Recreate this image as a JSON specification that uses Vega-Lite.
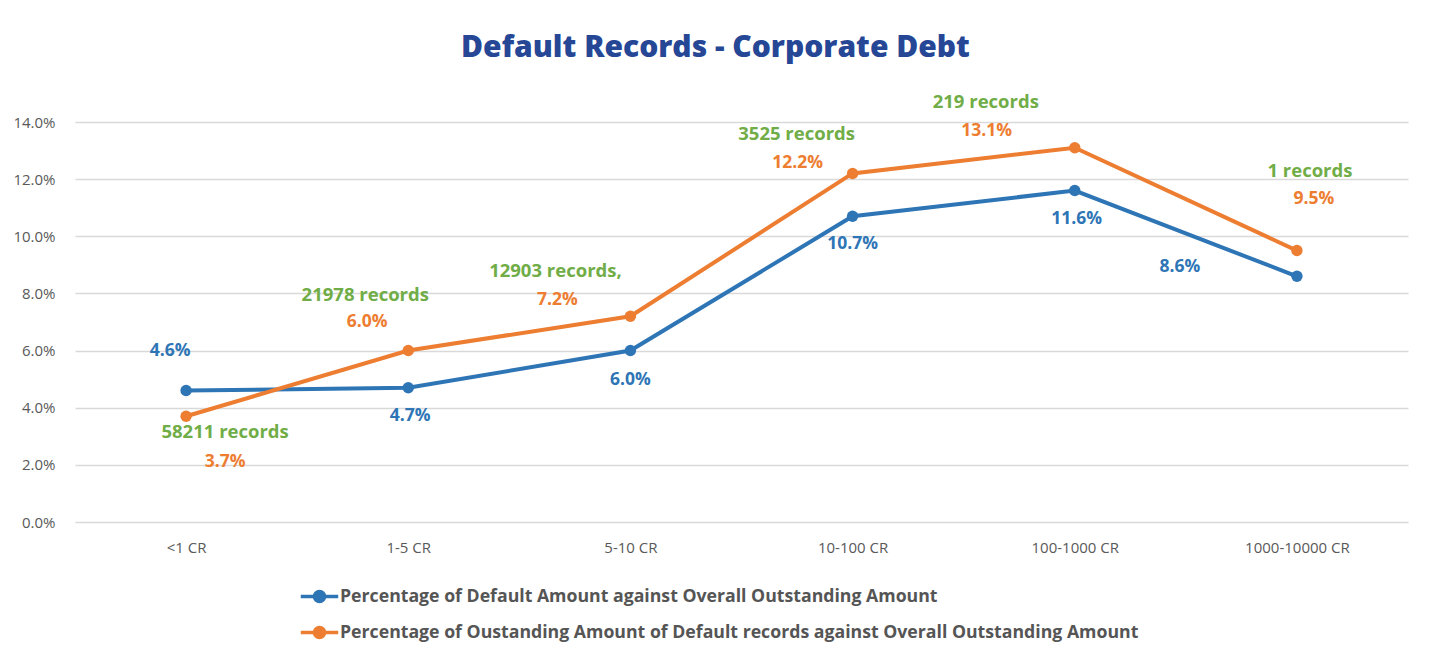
{
  "$schema": "https://vega.github.io/schema/vega-lite/v6.json",
  "width": 1333,
  "height": 400,
  "autosize": {"type": "none"},
  "padding": {"left": 75, "top": 122, "right": 21, "bottom": 135},
  "background": "white",
  "title": {
    "text": "Default Records - Corporate Debt",
    "anchor": "middle",
    "dx": -26,
    "offset": 30,
    "font": "Open Sans",
    "fontSize": 30,
    "fontWeight": 800,
    "color": "#264796"
  },
  "config": {
    "view": {"stroke": null},
    "font": "Open Sans"
  },
  "data": {
    "values": [
      {"range": "<1 CR", "s": "d", "series": "Percentage of Default Amount against Overall Outstanding Amount", "value": 0.046},
      {"range": "1-5 CR", "s": "d", "series": "Percentage of Default Amount against Overall Outstanding Amount", "value": 0.047},
      {"range": "5-10 CR", "s": "d", "series": "Percentage of Default Amount against Overall Outstanding Amount", "value": 0.060},
      {"range": "10-100 CR", "s": "d", "series": "Percentage of Default Amount against Overall Outstanding Amount", "value": 0.107},
      {"range": "100-1000 CR", "s": "d", "series": "Percentage of Default Amount against Overall Outstanding Amount", "value": 0.116},
      {"range": "1000-10000 CR", "s": "d", "series": "Percentage of Default Amount against Overall Outstanding Amount", "value": 0.086},
      {"range": "<1 CR", "s": "o", "series": "Percentage of Oustanding Amount of Default records against Overall Outstanding Amount", "value": 0.037, "records": "58211 records"},
      {"range": "1-5 CR", "s": "o", "series": "Percentage of Oustanding Amount of Default records against Overall Outstanding Amount", "value": 0.060, "records": "21978 records"},
      {"range": "5-10 CR", "s": "o", "series": "Percentage of Oustanding Amount of Default records against Overall Outstanding Amount", "value": 0.072, "records": "12903 records,"},
      {"range": "10-100 CR", "s": "o", "series": "Percentage of Oustanding Amount of Default records against Overall Outstanding Amount", "value": 0.122, "records": "3525 records"},
      {"range": "100-1000 CR", "s": "o", "series": "Percentage of Oustanding Amount of Default records against Overall Outstanding Amount", "value": 0.131, "records": "219 records"},
      {"range": "1000-10000 CR", "s": "o", "series": "Percentage of Oustanding Amount of Default records against Overall Outstanding Amount", "value": 0.095, "records": "1 records"}
    ]
  },
  "encoding": {
    "x": {
      "field": "range",
      "type": "nominal",
      "sort": ["<1 CR", "1-5 CR", "5-10 CR", "10-100 CR", "100-1000 CR", "1000-10000 CR"],
      "scale": {"type": "point", "padding": 0.5},
      "axis": {
        "title": null,
        "labelAngle": 0,
        "domain": false,
        "ticks": false,
        "grid": false,
        "labelPadding": 18,
        "labelFontSize": 15,
        "labelColor": "#595959",
        "labelFont": "Open Sans"
      }
    },
    "y": {
      "field": "value",
      "type": "quantitative",
      "scale": {"domain": [0, 0.14], "nice": false},
      "axis": {
        "title": null,
        "values": [0, 0.02, 0.04, 0.06, 0.08, 0.10, 0.12, 0.14],
        "format": ".1%",
        "domain": false,
        "ticks": false,
        "labelPadding": 20,
        "labelFontSize": 15,
        "labelColor": "#595959",
        "gridColor": "#d9d9d9",
        "gridWidth": 1.5
      }
    }
  },
  "layer": [
    {
      "mark": {"type": "line", "strokeWidth": 4, "point": {"filled": true, "size": 130}},
      "encoding": {
        "color": {
          "field": "series",
          "type": "nominal",
          "scale": {
            "domain": [
              "Percentage of Default Amount against Overall Outstanding Amount",
              "Percentage of Oustanding Amount of Default records against Overall Outstanding Amount"
            ],
            "range": ["#2E75B6", "#ED7D31"]
          },
          "legend": {
            "title": null,
            "orient": "none",
            "legendX": 224,
            "legendY": 454,
            "direction": "vertical",
            "symbolType": "M-1,0L1,0M-0.27,0A0.27,0.27 0 1,0 0.27,0A0.27,0.27 0 1,0 -0.27,0Z",
            "symbolSize": 1400,
            "symbolStrokeWidth": 3.5,
            "labelFont": "Open Sans",
            "labelFontSize": 17.7,
            "labelFontWeight": 700,
            "labelColor": "#555555",
            "labelOffset": 0,
            "labelLimit": 1000,
            "rowPadding": 3,
            "encode": {
              "symbols": {"update": {"fill": {"scale": "color", "field": "value"}, "fillOpacity": {"value": 1}}}
            }
          }
        }
      }
    },
    {
      "transform": [{"filter": "datum.s === 'd'"}],
      "mark": {
        "type": "text",
        "font": "Open Sans",
        "fontSize": 17.5,
        "fontWeight": 700,
        "color": "#2E75B6",
        "baseline": "middle",
        "dx": {"expr": "[-16,2,0,0,2,-117][indexof(['<1 CR','1-5 CR','5-10 CR','10-100 CR','100-1000 CR','1000-10000 CR'], datum.range)]"},
        "dy": {"expr": "[-40,28,29,28,28,-9][indexof(['<1 CR','1-5 CR','5-10 CR','10-100 CR','100-1000 CR','1000-10000 CR'], datum.range)]"}
      },
      "encoding": {"text": {"field": "value", "type": "quantitative", "format": ".1%"}}
    },
    {
      "transform": [{"filter": "datum.s === 'o'"}],
      "mark": {
        "type": "text",
        "font": "Open Sans",
        "fontSize": 17.5,
        "fontWeight": 700,
        "color": "#ED7D31",
        "baseline": "middle",
        "dx": {"expr": "[39,-41,-73,-55,-88,17][indexof(['<1 CR','1-5 CR','5-10 CR','10-100 CR','100-1000 CR','1000-10000 CR'], datum.range)]"},
        "dy": {"expr": "[46,-29,-16,-10,-17,-52][indexof(['<1 CR','1-5 CR','5-10 CR','10-100 CR','100-1000 CR','1000-10000 CR'], datum.range)]"}
      },
      "encoding": {"text": {"field": "value", "type": "quantitative", "format": ".1%"}}
    },
    {
      "transform": [{"filter": "datum.s === 'o'"}],
      "mark": {
        "type": "text",
        "font": "Open Sans",
        "fontSize": 18.5,
        "fontWeight": 700,
        "color": "#70AD47",
        "baseline": "middle",
        "dx": {"expr": "[39,-43,-75,-56,-89,13][indexof(['<1 CR','1-5 CR','5-10 CR','10-100 CR','100-1000 CR','1000-10000 CR'], datum.range)]"},
        "dy": {"expr": "[16,-56,-45,-39,-46,-80][indexof(['<1 CR','1-5 CR','5-10 CR','10-100 CR','100-1000 CR','1000-10000 CR'], datum.range)]"}
      },
      "encoding": {"text": {"field": "records", "type": "nominal"}}
    }
  ]
}
